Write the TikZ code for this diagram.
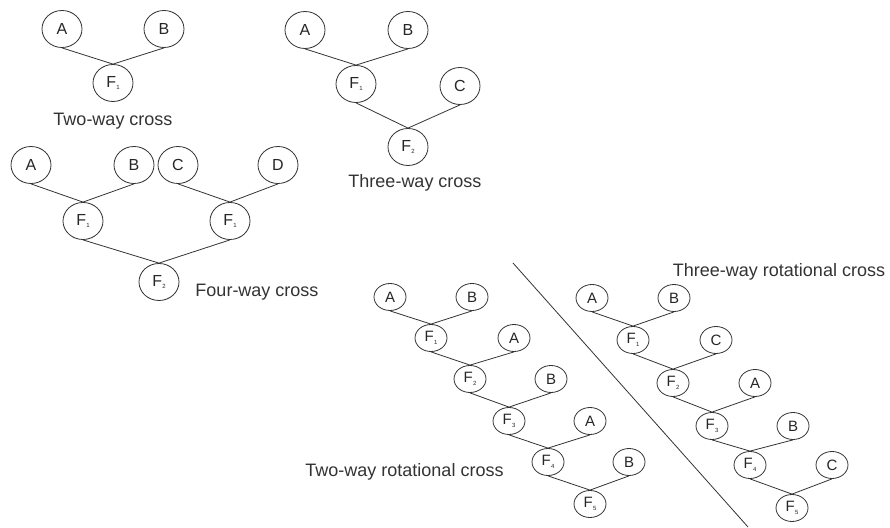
\documentclass[tikz,border=0pt]{standalone}
\usepackage{fontspec}
\setmainfont{Liberation Sans}
\usetikzlibrary{positioning,shapes.geometric}
\newcommand{\fgen}[1]{F\kern0.3pt\raisebox{-2.5pt}{\fontsize{6}{6}\selectfont #1}}

\begin{document}
\begin{tikzpicture}[x=1pt,y=1pt,
	parentb/.style={
	  draw=black!80,
	  ellipse,
	  line width=0.8pt,
	  inner sep=0pt,
	  minimum width=40pt,
	  minimum height=37pt,
	  font=\fontsize{16}{16}\selectfont,
	  text=black!85
	},
	rotb/.style={
	  parentb,
	  minimum width=32pt,
	  minimum height=27pt,
	  font=\fontsize{15}{15}\selectfont
	},
	titleb/.style={
	  font=\fontsize{18}{18}\selectfont,
	  text=black!80,
	  inner sep=0pt
	},
	crossl/.style={
	  draw=black!80,
	  line width=0.8pt
	}]

	\useasboundingbox (0,0) rectangle (890,527);

	% two-way cross
	\node[parentb] (TwoA) at (62,498) {A};
	\node[parentb] (TwoB) at (164,498) {B};
	\node[parentb] (TwoF1) at (113,444) {\fgen{1}};
	\node[titleb,below=11pt of TwoF1] (TwoTitle) {Two-way cross};

	% three-way cross
	\node[parentb] (ThreeA) at (305,497) {A};
	\node[parentb] (ThreeB) at (408,497) {B};
	\node[parentb] (ThreeF1) at (356,443) {\fgen{1}};
	\node[parentb] (ThreeC) at (460,441) {C};
	\node[parentb] (ThreeF2) at (408,380) {\fgen{2}};
	\node[titleb,below=8pt of ThreeF2,xshift=7pt] (ThreeTitle) {Three-way cross};

	% four-way cross
	\node[parentb] (FourA) at (31,362) {A};
	\node[parentb] (FourB) at (134,362) {B};
	\node[parentb] (FourC) at (178,362) {C};
	\node[parentb] (FourD) at (278,362) {D};
	\node[parentb] (FourF1a) at (83,306) {\fgen{1}};
	\node[parentb] (FourF1b) at (230,306) {\fgen{1}};
	\node[parentb] (FourF2) at (159,245) {\fgen{2}};
	\node[titleb] (FourTitle) at (257,235) {Four-way cross};

	% two-way rotational cross
	\node[rotb] (RotA1) at (390,230) {A};
	\node[rotb] (RotB1) at (472,230) {B};
	\node[rotb] (RotF1) at (431,189) {\fgen{1}};
	\node[rotb] (RotA2) at (514,189) {A};
	\node[rotb] (RotF2) at (470,148) {\fgen{2}};
	\node[rotb] (RotB2) at (551,148) {B};
	\node[rotb] (RotF3) at (509,106) {\fgen{3}};
	\node[rotb] (RotA3) at (590,106) {A};
	\node[rotb] (RotF4) at (548,65) {\fgen{4}};
	\node[rotb] (RotB3) at (629,65) {B};
	\node[rotb] (RotF5) at (590,23) {\fgen{5}};
	\node[titleb] (RotTitle) at (404.5,55) {Two-way rotational cross};

	% three-way rotational cross
	\node[rotb] (TriA1) at (592,229) {A};
	\node[rotb] (TriB1) at (674,229) {B};
	\node[rotb] (TriF1) at (633,187) {\fgen{1}};
	\node[rotb] (TriC1) at (716,187) {C};
	\node[rotb] (TriF2) at (673,144) {\fgen{2}};
	\node[rotb] (TriA2) at (755,144) {A};
	\node[rotb] (TriF3) at (712,101) {\fgen{3}};
	\node[rotb] (TriB2) at (793,101) {B};
	\node[rotb] (TriF4) at (750,62) {\fgen{4}};
	\node[rotb] (TriC2) at (832,62) {C};
	\node[rotb] (TriF5) at (792,19) {\fgen{5}};
	\node[titleb] (TriTitle) at (779,255) {Three-way rotational cross};

	\draw[crossl] (TwoA.south) -- (TwoF1.north) -- (TwoB.south);

	\draw[crossl] (ThreeA.south) -- (ThreeF1.north) -- (ThreeB.south);
	\draw[crossl] (ThreeF1.south) -- (ThreeF2.north) -- (ThreeC.south);

	\draw[crossl] (FourA.south) -- (FourF1a.north) -- (FourB.south);
	\draw[crossl] (FourC.south) -- (FourF1b.north) -- (FourD.south);
	\draw[crossl] (FourF1a.south) -- (FourF2.north) -- (FourF1b.south);

	\draw[crossl] (RotA1.south) -- (RotF1.north) -- (RotB1.south);
	\draw[crossl] (RotF1.south) -- (RotF2.north) -- (RotA2.south);
	\draw[crossl] (RotF2.south) -- (RotF3.north) -- (RotB2.south);
	\draw[crossl] (RotF3.south) -- (RotF4.north) -- (RotA3.south);
	\draw[crossl] (RotF4.south) -- (RotF5.north) -- (RotB3.south);

	\draw[crossl] (TriA1.south) -- (TriF1.north) -- (TriB1.south);
	\draw[crossl] (TriF1.south) -- (TriF2.north) -- (TriC1.south);
	\draw[crossl] (TriF2.south) -- (TriF3.north) -- (TriA2.south);
	\draw[crossl] (TriF3.south) -- (TriF4.north) -- (TriB2.south);
	\draw[crossl] (TriF4.south) -- (TriF5.north) -- (TriC2.south);

	% divider
	\coordinate (DivTop) at (513,264);
	\coordinate (DivBot) at (748,0);
	\draw[crossl] (DivTop) -- (DivBot);
\end{tikzpicture}
\end{document}
